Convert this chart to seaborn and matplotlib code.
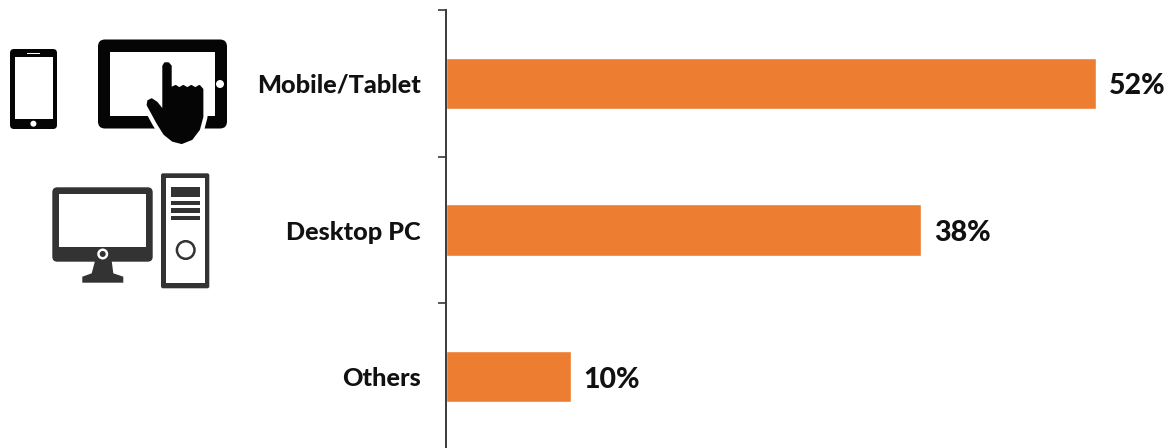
import matplotlib
matplotlib.use("Agg")
import matplotlib.pyplot as plt
from matplotlib.patches import Circle, FancyBboxPatch, Polygon, Rectangle
import pandas as pd
import seaborn as sns

categories = ["Mobile/Tablet", "Desktop PC", "Others"]
shares = [52, 38, 10]

BAR_COLOR = "#ED7D31"
AXIS_COLOR = "#3a3a3a"
WIDTH, HEIGHT = 1170, 448

sns.set_style("white")
plt.rcParams["font.family"] = ["Lato", "DejaVu Sans"]

fig = plt.figure(figsize=(WIDTH / 100, HEIGHT / 100), dpi=100, facecolor="white")

# Bar panel: one band per category, running slightly past the bottom edge
ax_left, ax_top, ax_bottom = 445.5, 10.0, 450.0
ax = fig.add_axes([ax_left / WIDTH, 1 - ax_bottom / HEIGHT,
                   (WIDTH - ax_left) / WIDTH, (ax_bottom - ax_top) / HEIGHT])
ax.patch.set_alpha(0)
frame = pd.DataFrame({"device": categories, "share": shares})
sns.barplot(data=frame, y="device", x="share", color=BAR_COLOR, saturation=1,
            width=0.352, ax=ax)
ax.set_xlim(0, (WIDTH - ax_left) / 12.5)
ax.set_ylim(len(categories) - 0.5, -0.5)
ax.set_xlabel("")
ax.set_ylabel("")
ax.set_xticks([])
sns.despine(ax=ax, top=True, right=True, bottom=True)
ax.spines["left"].set_color(AXIS_COLOR)
ax.spines["left"].set_linewidth(1.4)

# Tick marks sit on the band edges, category labels on the band centres
ax.set_yticks([i - 0.5 for i in range(len(categories) + 1)], minor=True)
ax.tick_params(axis="y", which="minor", left=True, length=6, width=1.4, color="#555555")
ax.tick_params(axis="y", which="major", left=False, length=0, pad=18)
for label in ax.get_yticklabels():
    label.set_fontsize(18.2)
    label.set_fontweight(900)
    label.set_color("#111111")

value_labels = ax.bar_label(ax.containers[0], fmt="%d%%", padding=9.5, fontsize=20.5,
                            fontweight=900, color="#111111")
for text in value_labels:
    text.xyann = (text.xyann[0], text.xyann[1] - 2.2)

# Device pictograms, laid out in pixel coordinates on a transparent overlay
icons = fig.add_axes([0, 0, 1, 1], zorder=5)
icons.set_xlim(0, WIDTH)
icons.set_ylim(HEIGHT, 0)
icons.axis("off")


def rounded(x0, y0, x1, y1, radius, color):
    icons.add_patch(FancyBboxPatch(
        (x0 + radius, y0 + radius), x1 - x0 - 2 * radius, y1 - y0 - 2 * radius,
        boxstyle=f"round,pad={radius},rounding_size={radius}", fc=color, ec="none"))


def rect(x0, y0, x1, y1, color):
    icons.add_patch(Rectangle((x0, y0), x1 - x0, y1 - y0, fc=color, ec="none"))


BLACK = "#050505"
DARK = "#333333"

# Phone
rounded(10, 49, 57, 129, 4, BLACK)
rect(14.5, 57.5, 53.3, 118.7, "white")
rect(27, 52.6, 40, 54.2, "white")
icons.add_patch(Circle((33.4, 123.7), 3, fc="white", ec="none"))

# Tablet
rounded(98, 39.5, 227, 128.5, 7, BLACK)
rect(110, 51.7, 215, 116, "white")
icons.add_patch(Circle((220, 84), 4, fc="white", ec="none"))

# Pointing hand, with a white halo cutting into the tablet frame
hand = [(490, 108), (495, 100), (505, 100), (512, 108), (512, 175), (527, 168), (538, 175),
        (550, 168), (562, 175), (574, 168), (586, 175), (598, 168), (607, 178), (607, 260),
        (597, 298), (575, 327), (545, 339), (518, 332), (493, 312), (473, 280), (443, 225),
        (445, 213), (455, 208), (470, 218), (490, 243)]
hand_px = [(x / 3, 30 + y / 3) for x, y in hand]
icons.add_patch(Polygon(hand_px, closed=True, fc="white", ec="white", lw=7.5, joinstyle="round"))
icons.add_patch(Polygon(hand_px, closed=True, fc=BLACK, ec=BLACK, lw=1.5, joinstyle="round"))

# Monitor
rounded(52.3, 187.3, 152.7, 261.7, 5, DARK)
rect(59.3, 194, 146, 246.7, "white")
icons.add_patch(Circle((102.7, 254), 5.5, fc="white", ec="none"))
icons.add_patch(Circle((102.7, 254), 3, fc=DARK, ec="none"))
stand = [(95, 261), (111.7, 261), (113.3, 273.3), (123.3, 276.7), (123.3, 282.7),
         (82.3, 282.7), (82.3, 276.7), (91.7, 273.3)]
icons.add_patch(Polygon(stand, closed=True, fc=DARK, ec="none"))

# Tower
rounded(161, 173.3, 209.3, 288.3, 2, DARK)
rect(165.7, 178.3, 205, 283.3, "white")
rect(171, 186.7, 200, 196.7, DARK)
rect(171, 200.7, 200, 205, DARK)
rect(171, 208.3, 200, 212.7, DARK)
rect(171, 216, 200, 220, DARK)
icons.add_patch(Circle((185.7, 250), 8.8, fc="white", ec=DARK, lw=1.8))

fig.savefig("out.png", dpi=100, facecolor="white")
